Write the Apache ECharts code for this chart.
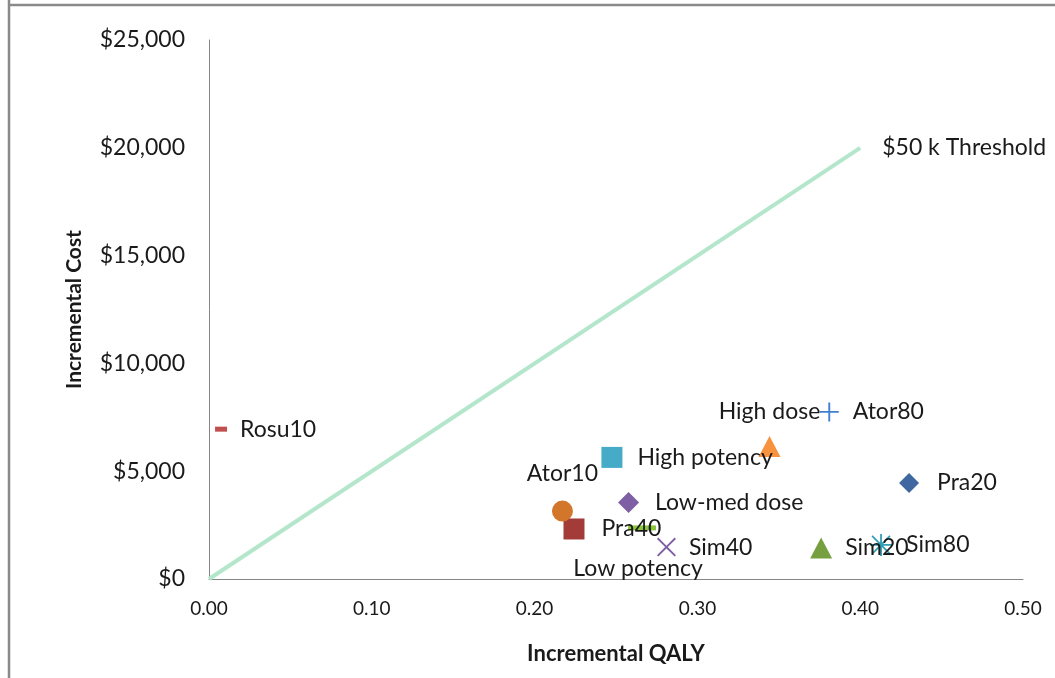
<!DOCTYPE html>
<html>
<head>
<meta charset="utf-8">
<script src="https://cdn.jsdelivr.net/npm/echarts@6/dist/echarts.min.js"></script>
<style>
html,body{margin:0;padding:0;background:#fff;}
#chart{width:1055px;height:678px;}
</style>
</head>
<body>
<div id="chart"></div>
<script>
// ---- data ----
const names = ['Pra20','Rosu10','Sim20','Low-med dose','Sim80','Ator80','High dose','Pra40','Ator10','High potency','Low potency','Sim40'];
const qaly  = [0.430, 0.0074, 0.376, 0.2577, 0.4128, 0.381, 0.3443, 0.2242, 0.2171, 0.2475, 0.266, 0.281];
const cost  = [4450, 6950, 1440, 3550, 1580, 7750, 6150, 2320, 3150, 5640, 2370, 1480];
const thresholdQaly = [0, 0.40];
const thresholdCost = [0, 20000];
const thresholdLabel = '$50 k Threshold';
const xTicks = [0, 0.1, 0.2, 0.3, 0.4, 0.5];
const yTicks = [0, 5000, 10000, 15000, 20000, 25000];

// ---- styles (not data) ----
const P = {
  plus: 'path://M9,0h2v20h-2z M0,9h20v2h-20z',
  x: 'path://M1.4,0L10,8.6L18.6,0L20,1.4L11.4,10L20,18.6L18.6,20L10,11.4L1.4,20L0,18.6L8.6,10L0,1.4z',
  star: 'path://M9.2,0h1.6v20h-1.6z M0,9.2h20v1.6h-20z M2.4,1.3L18.7,17.6L17.6,18.7L1.3,2.4z M17.6,1.3L18.7,2.4L2.4,18.7L1.3,17.6z',
  dash: 'path://M0,0h10v4h-10z'
};
const styles = [
  {symbol:'diamond', size:20, color:'#3F68A0', pos:'right', dist:18},
  {symbol:P.dash, size:[12,5], color:'#C0504D', pos:'right', dist:13},
  {symbol:'triangle', size:[22,21], color:'#76A03F', pos:'right', dist:13},
  {symbol:'diamond', size:21, color:'#7E5FA3', pos:'right', dist:16},
  {symbol:P.star, size:22, color:'#2F9DB5', pos:'right', dist:14},
  {symbol:P.plus, size:19, color:'#3F80D0', pos:'right', dist:14},
  {symbol:'triangle', size:[22,21], color:'#F7923F', pos:'top', dist:13},
  {symbol:'rect', size:21, color:'#A33C39', pos:'right', dist:17},
  {symbol:'circle', size:21, color:'#D2762C', pos:'top', dist:16},
  {symbol:'rect', size:21, color:'#45ABC6', pos:'right', dist:15},
  {symbol:P.dash, size:[28,5], color:'#8CC43E', pos:'bottom', dist:27, off:[-4,0]},
  {symbol:P.x, size:19, color:'#7E5FA3', pos:'right', dist:13}
];

const pts = names.map((n,i)=>{
  const s = styles[i];
  return {
    name: n,
    value: [qaly[i], cost[i]],
    symbol: s.symbol,
    symbolSize: s.size,
    itemStyle: {color: s.color, opacity:1},
    label: {show:true, formatter:n, position:s.pos, distance:s.dist, offset:s.off||[0,0]}
  };
});

const font = 'Lato, "Open Sans", sans-serif';
const txt = '#1a1a1a';
const chart = echarts.init(document.getElementById('chart'), null, {renderer:'canvas'});
chart.setOption({
  animation:false,
  backgroundColor:'#fff',
  grid:{left:209, right:32, top:40, bottom:99, containLabel:false},
  xAxis:{
    type:'value', min:0, max:0.5, interval:0.1,
    name:'Incremental QALY', nameLocation:'middle', nameGap:64,
    nameTextStyle:{fontFamily:font, fontSize:22, fontWeight:'bold', color:txt},
    axisLine:{show:true, onZero:false, lineStyle:{color:'#868686', width:1}},
    axisTick:{show:false},
    splitLine:{show:false},
    axisLabel:{fontFamily:font, fontSize:19, color:txt, margin:20,
      formatter:v=>v.toFixed(2)}
  },
  yAxis:{
    type:'value', min:0, max:25000, interval:5000,
    name:'Incremental Cost', nameLocation:'middle', nameGap:124, nameRotate:90,
    nameTextStyle:{fontFamily:font, fontSize:21, fontWeight:'bold', color:txt},
    axisLine:{show:true, lineStyle:{color:'#868686', width:1}},
    axisTick:{show:false},
    splitLine:{show:false},
    axisLabel:{fontFamily:font, fontSize:23, color:txt, margin:24,
      formatter:v=>'$'+v.toLocaleString('en-US')}
  },
  graphic:[
    {type:'line', shape:{x1:9, y1:0, x2:9, y2:678}, style:{stroke:'#8a8a8a', lineWidth:2.5}},
    {type:'line', shape:{x1:9, y1:5, x2:1055, y2:5}, style:{stroke:'#8a8a8a', lineWidth:2.5}}
  ],
  series:[
    {
      type:'line',
      data: thresholdQaly.map((q,i)=>[q, thresholdCost[i]]),
      showSymbol:false, symbol:'none',
      lineStyle:{color:'#B3E6CB', width:4},
      endLabel:{show:true, formatter:thresholdLabel, distance:22,
        fontFamily:font, fontSize:23, color:txt},
      z:1
    },
    {
      type:'scatter',
      data: pts,
      label:{fontFamily:font, fontSize:23, color:txt},
      z:2
    }
  ]
});
</script>
</body>
</html>
